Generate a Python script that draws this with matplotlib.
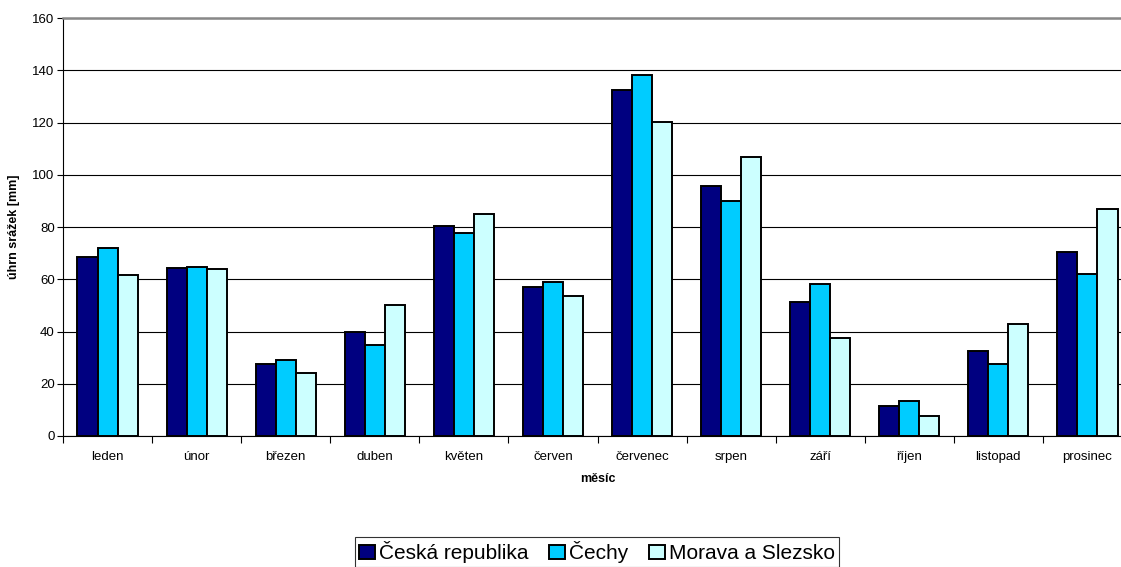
import numpy as np
import matplotlib
matplotlib.use("Agg")
import matplotlib.pyplot as plt
from matplotlib.ticker import FixedLocator

plt.rcParams['font.family'] = ['Liberation Sans', 'DejaVu Sans']

months = ['leden', 'únor', 'březen', 'duben', 'květen', 'červen',
          'červenec', 'srpen', 'září', 'říjen', 'listopad', 'prosinec']

# monthly precipitation totals [mm]
cr = [68.6, 64.4, 27.4, 39.8, 80.4, 57.2, 132.4, 95.7, 51.3, 11.5, 32.7, 70.3]
cechy = [71.8, 64.6, 29.0, 34.7, 77.8, 58.9, 138.1, 90.1, 58.1, 13.4, 27.4, 61.9]
morava = [61.6, 63.8, 24.2, 50.3, 85.0, 53.7, 120.1, 106.9, 37.6, 7.7, 42.9, 87.0]

series = [('Česká republika', cr, '#000080'),
          ('Čechy', cechy, '#00CCFF'),
          ('Morava a Slezsko', morava, '#CCFFFF')]

W, H = 1121, 567
fig = plt.figure(figsize=(W / 100, H / 100), dpi=100)
ax = fig.add_axes([63 / W, (H - 436) / H, (1132 - 63) / W, 418 / H])

x = np.arange(len(months))
bw = 0.225
handles = []
for k, (name, vals, col) in enumerate(series):
    b = ax.bar(x + (k - 1) * bw, vals, bw, color=col, edgecolor='black',
               linewidth=1.4, label=name, zorder=3)
    handles.append(b)

ax.set_xlim(-0.5, len(months) - 0.5)
ax.set_ylim(0, 160)
ax.set_yticks(np.arange(0, 161, 20))
ax.yaxis.grid(True, color='black', linewidth=0.8, zorder=0)

ax.set_xticks(x)
ax.set_xticklabels(months, fontsize=9.5)
ax.xaxis.set_minor_locator(FixedLocator(np.arange(-0.5, len(months), 1.0)))
ax.tick_params(axis='x', which='major', length=0, pad=11)
ax.tick_params(axis='x', which='minor', length=5, width=0.8, direction='out')
ax.tick_params(axis='y', length=4, width=0.8, direction='out', labelsize=9.5, pad=2)

ax.spines['top'].set_color('#888888')
ax.spines['top'].set_linewidth(1.8)
ax.spines['left'].set_linewidth(0.8)
ax.spines['bottom'].set_linewidth(0.8)
ax.spines['right'].set_color('#888888')

ax.set_ylabel('úhrn srážek [mm]', fontsize=9, fontweight='bold', labelpad=9)
ax.set_xlabel('měsíc', fontsize=9, fontweight='bold', labelpad=7)

leg = fig.legend(handles=handles, loc='upper left',
                 bbox_to_anchor=(355 / W, 1 - 537 / H), ncol=3, fontsize=15,
                 frameon=True, fancybox=False, edgecolor='black',
                 handlelength=0.75, handleheight=0.7, handletextpad=0.2,
                 columnspacing=1.0, borderpad=0.2, borderaxespad=0)
leg.get_frame().set_linewidth(0.8)

fig.savefig('out.png', dpi=100)
